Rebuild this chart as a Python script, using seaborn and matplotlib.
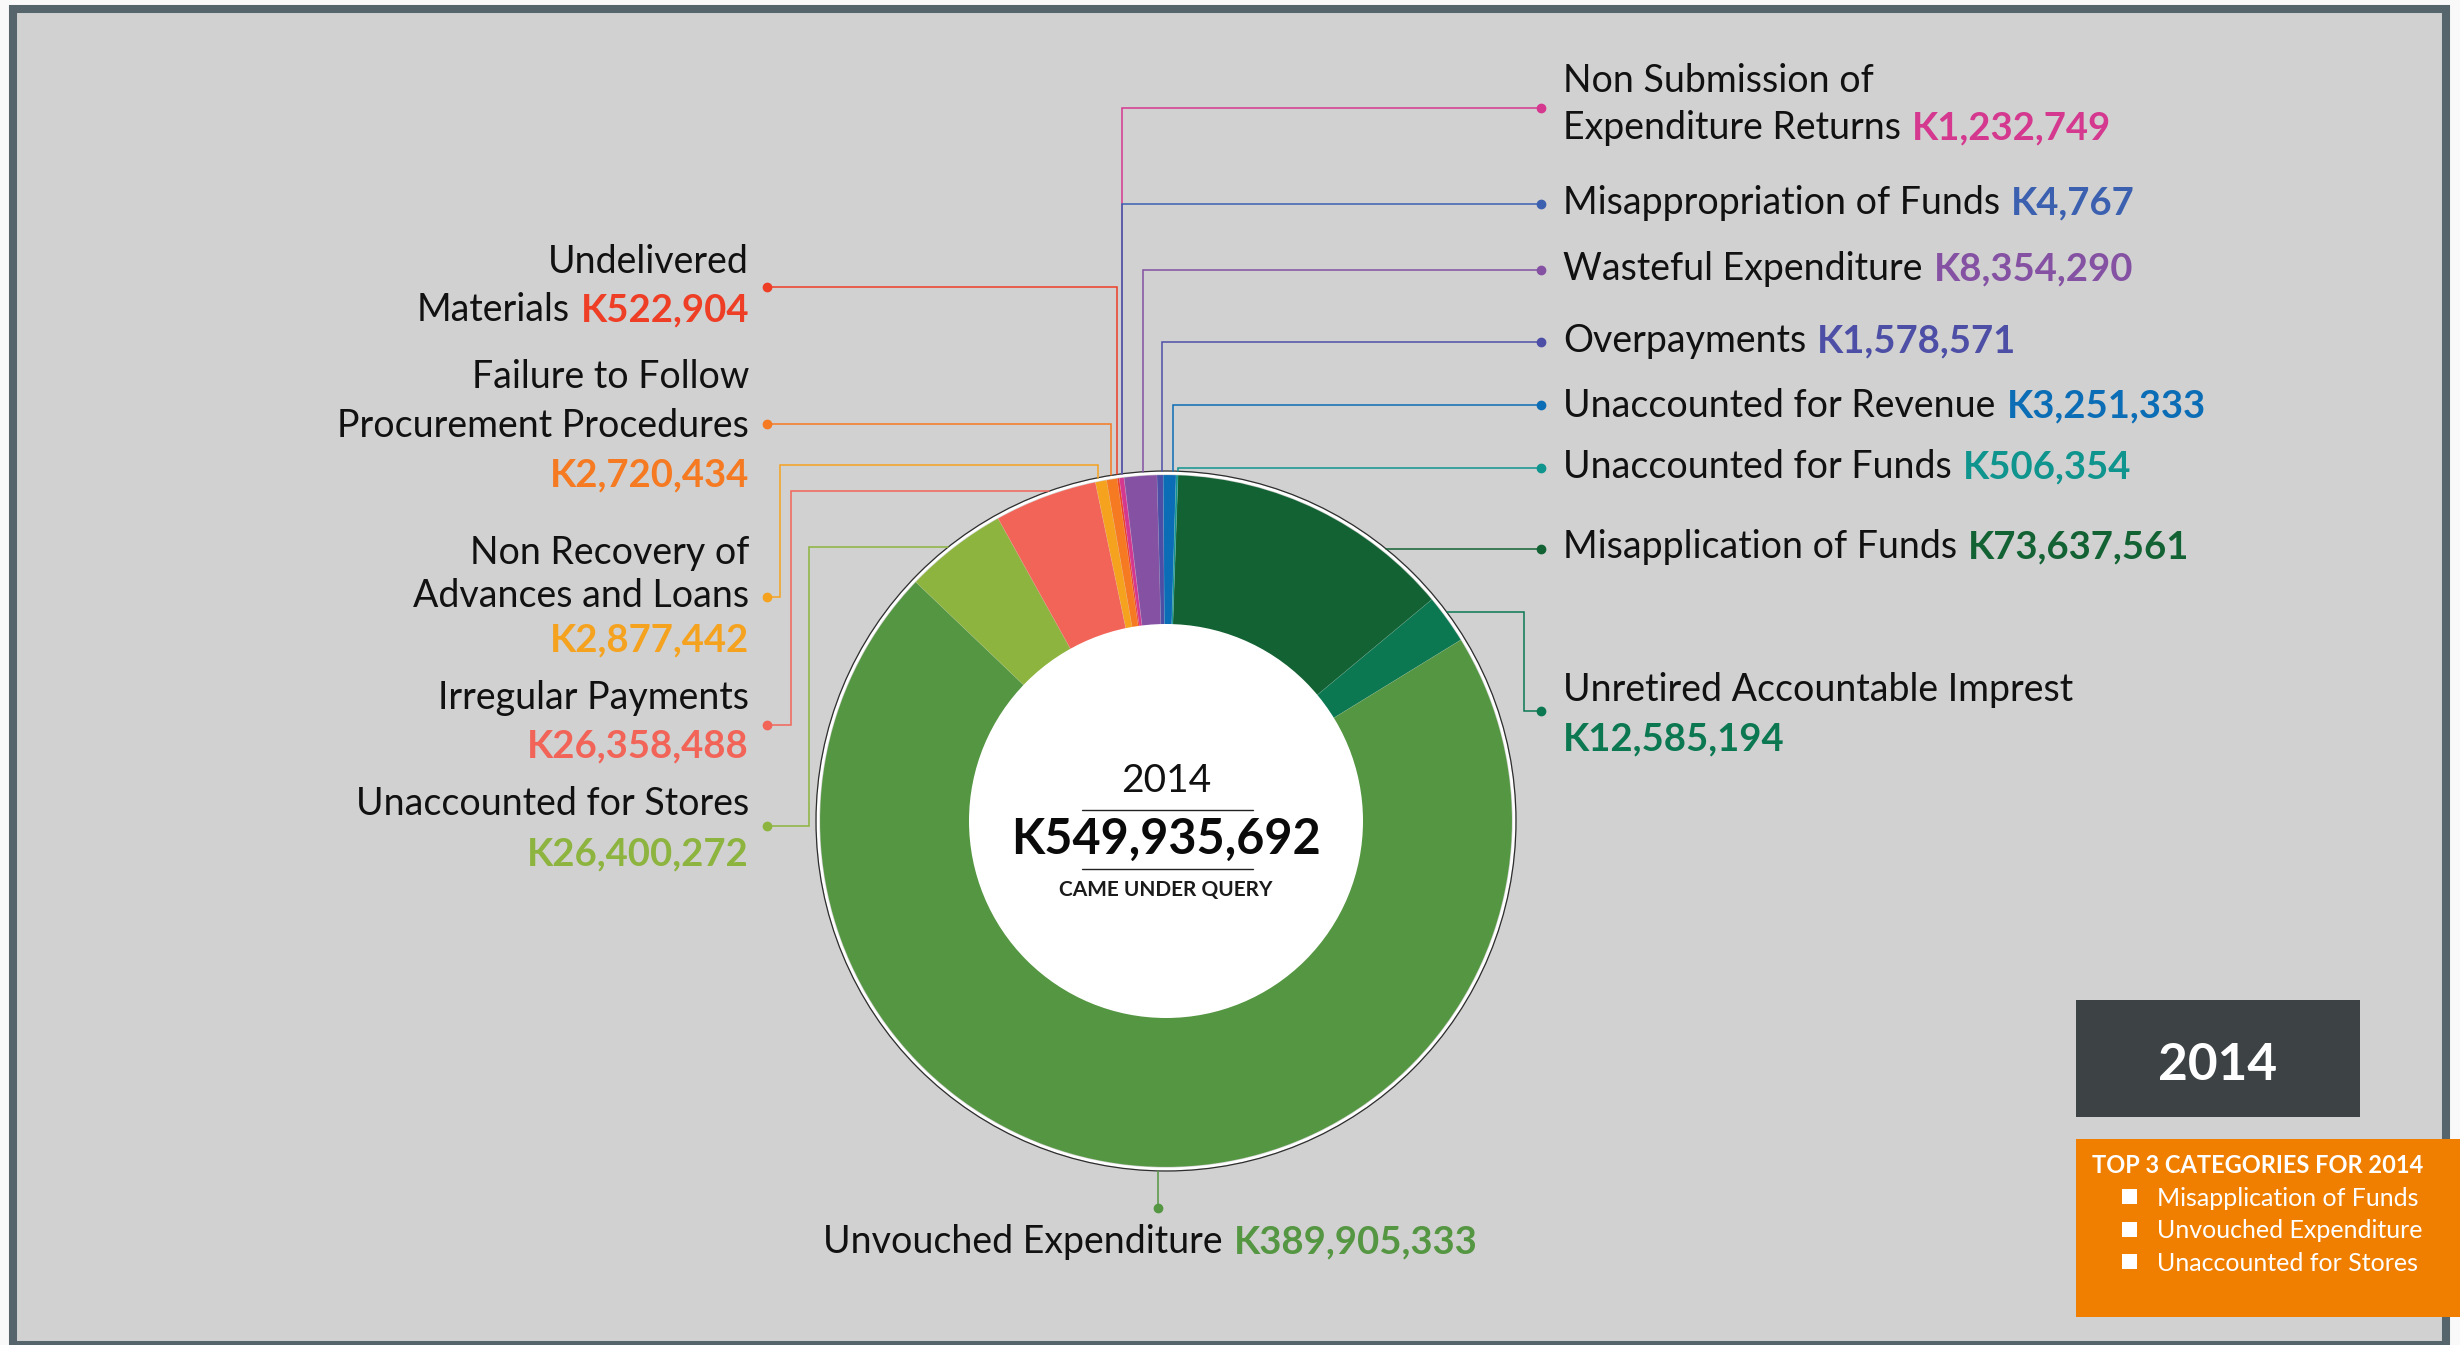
import matplotlib
matplotlib.use('Agg')
import matplotlib.pyplot as plt
from matplotlib.patches import Circle, Rectangle
import seaborn as sns

# DATA
year = '2014'
total_text = 'K549,935,692'
categories = ['Misapplication of Funds', 'Unretired Accountable Imprest', 'Unvouched Expenditure',
              'Unaccounted for Stores', 'Irregular Payments', 'Non Recovery of Advances and Loans',
              'Failure to Follow Procurement Procedures', 'Undelivered Materials',
              'Non Submission of Expenditure Returns', 'Misappropriation of Funds',
              'Wasteful Expenditure', 'Overpayments', 'Unaccounted for Revenue', 'Unaccounted for Funds']
amounts = [73637561, 12585194, 389905333, 26400272, 26358488, 2877442, 2720434, 522904,
           1232749, 4767, 8354290, 1578571, 3251333, 506354]
colors = ['#136233', '#0b7852', '#559642', '#8db43e', '#f26458', '#f5a21f', '#f57a21', '#ef3e26',
          '#d5388f', '#3b60b0', '#8451a3', '#4d4fa6', '#0b6db5', '#0f948e']
top3 = ['Misapplication of Funds', 'Unvouched Expenditure', 'Unaccounted for Stores']

# label text lines; 'same' = amount on last line, 'below' = amount on its own line
label_lines = {
    'Misapplication of Funds': (['Misapplication of Funds'], 'same'),
    'Unretired Accountable Imprest': (['Unretired Accountable Imprest'], 'below'),
    'Unvouched Expenditure': (['Unvouched Expenditure'], 'same'),
    'Unaccounted for Stores': (['Unaccounted for Stores'], 'below'),
    'Irregular Payments': (['Irregular Payments'], 'below'),
    'Non Recovery of Advances and Loans': (['Non Recovery of', 'Advances and Loans'], 'below'),
    'Failure to Follow Procurement Procedures': (['Failure to Follow', 'Procurement Procedures'], 'below'),
    'Undelivered Materials': (['Undelivered', 'Materials'], 'same'),
    'Non Submission of Expenditure Returns': (['Non Submission of', 'Expenditure Returns'], 'same'),
    'Misappropriation of Funds': (['Misappropriation of Funds'], 'same'),
    'Wasteful Expenditure': (['Wasteful Expenditure'], 'same'),
    'Overpayments': (['Overpayments'], 'same'),
    'Unaccounted for Revenue': (['Unaccounted for Revenue'], 'same'),
    'Unaccounted for Funds': (['Unaccounted for Funds'], 'same'),
}

# LAYOUT (pixel coordinates, y down)
W, H = 2460, 1345
CX, CY = 1166, 821
R_OUT, R_IN = 346, 196
R_EDGE = 350
LX, RX = 749, 1563   # left labels right edge / right labels left edge

# side, baselines, leader start, leader points
layout = {
    'Misapplication of Funds': ('R', [558], 'right', [(1541, 549)]),
    'Unretired Accountable Imprest': ('R', [701, 750], 'right', [(1524, 612), (1524, 711), (1541, 711)]),
    'Unvouched Expenditure': ('C', [1253], 'bottom', [(1158, 1208)]),
    'Unaccounted for Stores': ('L', [815, 865], 'left', [(809, 547), (809, 826), (767, 826)]),
    'Irregular Payments': ('L', [709, 757], 'left', [(791, 491), (791, 725), (767, 725)]),
    'Non Recovery of Advances and Loans': ('L', [564, 607, 651], 'top',
                                           [(1098, 465), (780, 465), (780, 597), (767, 597)]),
    'Failure to Follow Procurement Procedures': ('L', [388, 437, 486], 'top', [(1111, 424), (767, 424)]),
    'Undelivered Materials': ('L', [273, 321], 'top', [(1117, 287), (767, 287)]),
    'Non Submission of Expenditure Returns': ('R', [92, 139], 'top', [(1122, 108), (1541, 108)]),
    'Misappropriation of Funds': ('R', [214], 'top', [(1122, 204), (1541, 204)]),
    'Wasteful Expenditure': ('R', [280], 'top', [(1143, 270), (1541, 270)]),
    'Overpayments': ('R', [352], 'top', [(1162, 342), (1541, 342)]),
    'Unaccounted for Revenue': ('R', [417], 'top', [(1173, 405), (1541, 405)]),
    'Unaccounted for Funds': ('R', [478], 'top', [(1178, 468), (1541, 468)]),
}

sns.set_theme(style='white')
plt.rcParams['font.family'] = ['Lato', 'DejaVu Sans']

fig = plt.figure(figsize=(W / 100, H / 100), dpi=100, facecolor='#f9f9f9')
ax = fig.add_axes([0, 0, 1, 1])

# frame
ax.add_patch(Rectangle((13, 9), 2433, 1336, facecolor='#d1d1d1', edgecolor='#56656b',
                       linewidth=5.8, zorder=0))

# donut
ax.pie(amounts, colors=colors, radius=R_OUT, center=(CX, CY), startangle=-88, counterclock=True,
       wedgeprops=dict(width=R_OUT - R_IN, linewidth=0.5, edgecolor=(1, 1, 1, 0.12)))
ax.add_patch(Circle((CX, CY), R_IN + 1, facecolor='white', edgecolor='none', zorder=3))
ax.add_patch(Circle((CX, CY), R_OUT + 2, facecolor='none', edgecolor='white', linewidth=2.0, zorder=3))
ax.add_patch(Circle((CX, CY), R_EDGE, facecolor='none', edgecolor='#2e2e2e', linewidth=0.9, zorder=3))

ax.set_xlim(0, W)
ax.set_ylim(H, 0)
ax.set_aspect('auto')
ax.axis('off')

fig.canvas.draw()
renderer = fig.canvas.get_renderer()

NAME_FS, NUM_FS = 27, 27.5
GAP = 11


def text_width(s, **kw):
    t = ax.text(0, 0, s, **kw)
    w = t.get_window_extent(renderer).width
    t.remove()
    return w


def put_parts(x, y, parts, ha):
    kws = [dict(fontsize=fs, color=c, fontweight=wt) for (_, c, wt, fs) in parts]
    widths = [text_width(p[0], **k) for p, k in zip(parts, kws)]
    total = sum(widths) + GAP * (len(parts) - 1)
    if ha == 'left':
        x0 = x
    elif ha == 'right':
        x0 = x - total
    else:
        x0 = x - total / 2
    for (s, _, _, _), k, w in zip(parts, kws, widths):
        ax.text(x0, y, s, ha='left', va='baseline', zorder=6, **k)
        x0 += w + GAP


def attach(start, p):
    x, y = p
    if start == 'top':
        return (x, CY - (R_EDGE ** 2 - (x - CX) ** 2) ** 0.5)
    if start == 'bottom':
        return (x, CY + (R_EDGE ** 2 - (x - CX) ** 2) ** 0.5)
    if start == 'left':
        return (CX - (R_EDGE ** 2 - (y - CY) ** 2) ** 0.5, y)
    return (CX + (R_EDGE ** 2 - (y - CY) ** 2) ** 0.5, y)


for cat, amt, col in zip(categories, amounts, colors):
    side, baselines, start, pts = layout[cat]
    path = [attach(start, pts[0])] + pts
    ax.plot([p[0] for p in path], [p[1] for p in path], color=col, lw=1.1, zorder=4,
            solid_joinstyle='miter')
    ax.plot(pts[-1][0], pts[-1][1], 'o', color=col, ms=6, zorder=5)

    lines, mode = label_lines[cat]
    num = 'K{:,}'.format(amt)
    rows = [[(ln, '#111111', 'normal', NAME_FS)] for ln in lines]
    if mode == 'same':
        rows[-1].append((num, col, 'bold', NUM_FS))
    else:
        rows.append([(num, col, 'bold', NUM_FS)])
    ha = {'L': 'right', 'R': 'left', 'C': 'center'}[side]
    xa = {'L': LX, 'R': RX, 'C': 1150}[side]
    for row, yb in zip(rows, baselines):
        put_parts(xa, yb, row, ha)

# centre text
ax.text(CX, 792, year, ha='center', va='baseline', fontsize=28, color='#111111', zorder=6)
ax.plot([1082, 1253], [810, 810], color='#222222', lw=1.0, zorder=6)
ax.text(CX, 854, total_text, ha='center', va='baseline', fontsize=35, fontweight='bold',
        color='#0a0a0a', zorder=6)
ax.plot([1082, 1253], [869, 869], color='#222222', lw=1.0, zorder=6)
ax.text(CX, 896, 'CAME UNDER QUERY', ha='center', va='baseline', fontsize=15, fontweight='bold',
        color='#1a1a1a', zorder=6)

# year badge
ax.add_patch(Rectangle((2076, 1000), 284, 117, facecolor='#3d4244', edgecolor='none', zorder=5))
ax.text(2218, 1080, year, ha='center', va='baseline', fontsize=37, fontweight='bold',
        color='white', zorder=6)

# top 3 box
ax.add_patch(Rectangle((2076, 1139), 400, 178, facecolor='#f07f00', edgecolor='none', zorder=5))
ax.text(2092, 1173, 'TOP 3 CATEGORIES FOR ' + year, ha='left', va='baseline', fontsize=17,
        fontweight='bold', color='white', zorder=6)
for i, name in enumerate(top3):
    yb = 1206 + i * 32.5
    ax.add_patch(Rectangle((2122, yb - 17), 15, 15, facecolor='white', edgecolor='none', zorder=6))
    ax.text(2157, yb, name, ha='left', va='baseline', fontsize=18, color='white', zorder=6)

fig.savefig('out.png', dpi=100, facecolor=fig.get_facecolor())
